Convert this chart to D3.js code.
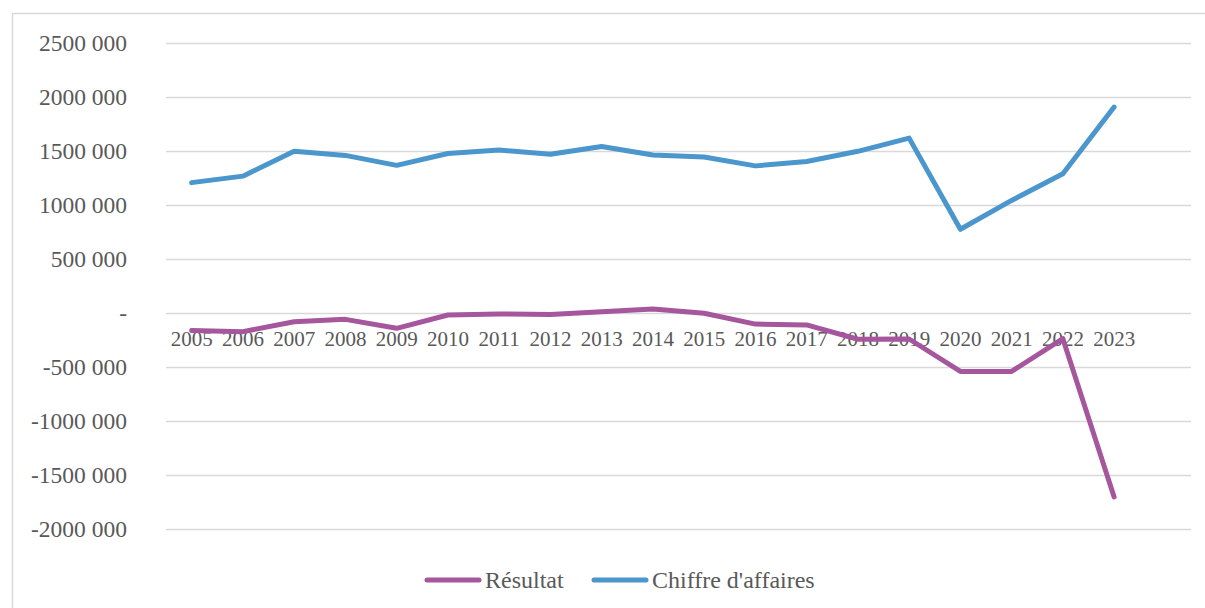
<!DOCTYPE html>
<html>
<head>
<meta charset="utf-8">
<script src="https://cdn.jsdelivr.net/npm/d3@7"></script>
<style>
  html, body { margin: 0; padding: 0; background: #fff; }
  svg { display: block; }
  text { font-family: "Liberation Serif", "Times New Roman", serif; fill: #595959; }
</style>
</head>
<body>
<svg id="chart" width="1205" height="608"></svg>
<script>
// Years on the category axis
const years = [2005, 2006, 2007, 2008, 2009, 2010, 2011, 2012, 2013, 2014,
               2015, 2016, 2017, 2018, 2019, 2020, 2021, 2022, 2023];

// Chiffre d'affaires (turnover)
const chiffreAffaires = [1210000, 1270000, 1500000, 1462000, 1370000, 1480000,
                         1512000, 1472000, 1545000, 1465000, 1448000, 1365000,
                         1405000, 1500000, 1622000, 778000, 1045000, 1292000, 1910000];

// Résultat (net result)
const resultat = [-160000, -170000, -78000, -56000, -139000, -16000,
                  -6000, -12000, 15000, 40000, 0, -100000,
                  -108000, -240000, -238000, -538000, -538000, -235000, -1700000];

// Value-axis ticks and their labels
const yTicks = [2500000, 2000000, 1500000, 1000000, 500000, 0,
                -500000, -1000000, -1500000, -2000000];
const yTickLabels = ["2500 000", "2000 000", "1500 000", "1000 000", "500 000", "-",
                     "-500 000", "-1000 000", "-1500 000", "-2000 000"];

const seriesNames = ["Résultat", "Chiffre d'affaires"];
const seriesColors = ["#a5569c", "#4a96cd"];

const svg = d3.select("#chart");

// Outer chart frame
svg.append("rect")
  .attr("x", 12.5).attr("y", 13.5)
  .attr("width", 1205).attr("height", 610)
  .attr("fill", "none").attr("stroke", "#d9d9d9").attr("stroke-width", 1.5);

const plot = { left: 166, right: 1191, top: 43.3, bottom: 529.3 };

const x = d3.scaleLinear()
  .domain([years[0] - 0.5, years[years.length - 1] + 1.5])
  .range([plot.left, plot.right]);

const y = d3.scaleLinear()
  .domain([-2000000, 2500000])
  .range([plot.bottom, plot.top]);

// Horizontal gridlines
svg.append("g").selectAll("line")
  .data(yTicks)
  .join("line")
  .attr("x1", plot.left).attr("x2", plot.right)
  .attr("y1", d => Math.round(y(d)) + 0.5).attr("y2", d => Math.round(y(d)) + 0.5)
  .attr("stroke", "#d9d9d9").attr("stroke-width", 1.3);

// Value-axis labels
svg.append("g").selectAll("text")
  .data(yTicks)
  .join("text")
  .attr("x", 127)
  .attr("y", d => y(d))
  .attr("dy", "0.34em")
  .attr("text-anchor", "end")
  .style("font-size", "23.5px")
  .text((d, i) => yTickLabels[i]);

// Category labels, sitting just under the zero line
svg.append("g").selectAll("text")
  .data(years)
  .join("text")
  .attr("x", d => x(d))
  .attr("y", y(0) + 33)
  .attr("text-anchor", "middle")
  .style("font-size", "21px")
  .text(d => d);

// Series lines
const line = d3.line()
  .x((d, i) => x(years[i]))
  .y(d => y(d));

[resultat, chiffreAffaires].forEach((vals, k) => {
  svg.append("path")
    .datum(vals)
    .attr("d", line)
    .attr("fill", "none")
    .attr("stroke", seriesColors[k])
    .attr("stroke-width", 5)
    .attr("stroke-linejoin", "round")
    .attr("stroke-linecap", "round");
});

// Legend
const legendItems = [
  { name: seriesNames[0], color: seriesColors[0], x: 427 },
  { name: seriesNames[1], color: seriesColors[1], x: 594 }
];
const legend = svg.append("g");
legendItems.forEach(it => {
  legend.append("line")
    .attr("x1", it.x).attr("x2", it.x + 52)
    .attr("y1", 580).attr("y2", 580)
    .attr("stroke", it.color).attr("stroke-width", 5)
    .attr("stroke-linecap", "round");
  legend.append("text")
    .attr("x", it.x + 58)
    .attr("y", 580)
    .attr("dy", "0.34em")
    .style("font-size", "24px")
    .text(it.name);
});
</script>
</body>
</html>
